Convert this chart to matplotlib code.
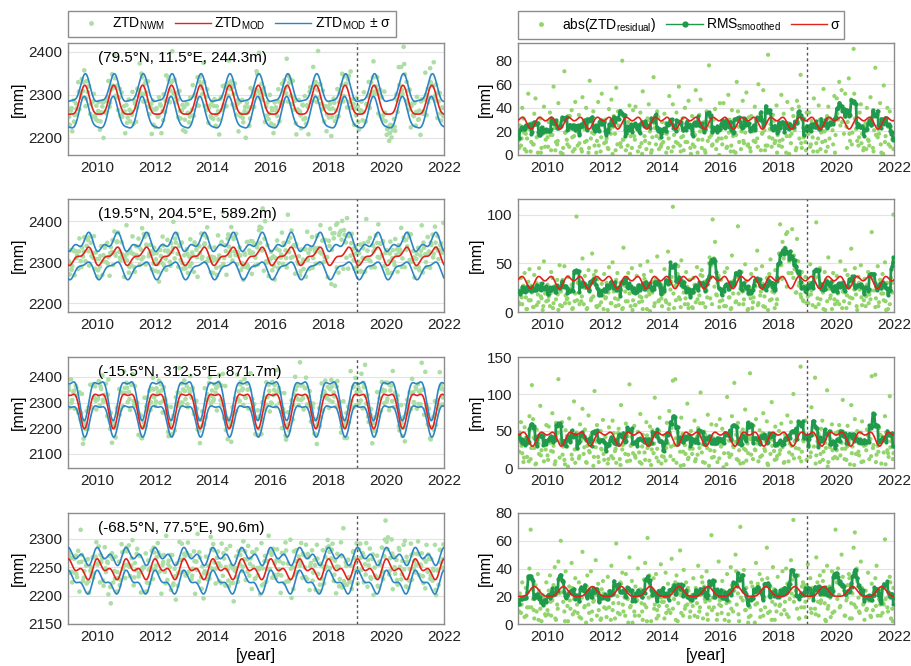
import numpy as np
import pandas as pd
import matplotlib
matplotlib.use("Agg")
import matplotlib.pyplot as plt
from matplotlib.lines import Line2D

plt.rcParams['font.family'] = ['Liberation Sans', 'DejaVu Sans']
plt.rcParams['mathtext.fontset'] = 'custom'
plt.rcParams['mathtext.rm'] = 'Liberation Sans'
plt.rcParams['mathtext.it'] = 'Liberation Sans:italic'

stations = ["(79.5°N, 11.5°E, 244.3m)", "(19.5°N, 204.5°E, 589.2m)",
            "(-15.5°N, 312.5°E, 871.7m)", "(-68.5°N, 77.5°E, 90.6m)"]

# harmonic ZTD model [mm]: mean, annual amp / phase, semi-annual amp / phase
mod_mean = [2280, 2314.5, 2286.5, 2246]
mod_a1 = [33.5, 17.3, 65, 12]
mod_p1 = [0.58, 0.633, 0.07, 0.10]
mod_a2 = [8.4, 8.65, -23.5, 9]
mod_p2 = [0.58, 0.258, 0.07, 0.48]

# sigma of the model [mm]
sig_mean = [28.5, 32, 42, 22.6]
sig_a1 = [-3.5, 4, 7.5, 3.5]
sig_p1 = [0.45, 0.93, 0.0, 0.57]
sig_a2 = [-3, 4, 5, 0.875]
sig_p2 = [0.45, 0.68, 0.25, 0.57]

left_ylim = [(2160, 2420), (2178, 2455), (2045, 2478), (2150, 2345)]
left_yticks = [[2200, 2300, 2400], [2200, 2300, 2400],
               [2100, 2200, 2300, 2400], [2150, 2200, 2250, 2300]]
right_ylim = [(0, 95), (0, 116), (0, 150), (0, 80)]
right_yticks = [[0, 20, 40, 60, 80], [0, 50, 100], [0, 50, 100, 150], [0, 20, 40, 60, 80]]
xticks = [2010, 2012, 2014, 2016, 2018, 2020, 2022]

# ZTD residuals (NWM - MOD) [mm], 24 samples per year, 2009-2021
res_s1 = [12, -25, 8, -40, 31, -5, 18, -14, 52, -22, 3, 27, -9, 35, -48, 15, -2, 22, -31, 6, -18, 41, -7, 19,
          -15, 28, -36, 4, 17, -58, 23, -11, 9, 44, -27, 2, 30, -6, 71, -19, 13, -33, 7, -24, 38, -3, 16, -45,
          21, -8, 34, -17, 5, 49, -29, 11, -40, 26, -2, 63, -14, 19, -37, 8, 24, -12, 45, -21, 3, -52, 29, 10,
          -30, 14, -6, 39, 22, -47, 1, 33, -18, 57, -9, 25, -35, 7, 80, -13, 27, -4, 18, -28, 42, -16, 6, -38,
          16, -41, 24, 3, -20, 36, -10, 54, -26, 12, -5, 31, -43, 20, 2, -15, 66, -23, 9, 37, -32, 14, -7, 28,
          -11, 35, -27, 18, 6, -50, 29, -3, 43, -17, 23, -36, 10, 58, -8, 15, -31, 4, 40, -22, 11, -46, 26, -1,
          33, -19, 7, -55, 25, 13, -34, 47, -6, 20, -28, 2, 37, -12, 76, -24, 17, -9, 30, -39, 5, 21, -14, 44,
          -22, 9, -44, 27, 15, -7, 51, -30, 3, 38, -16, 24, -2, 62, -37, 11, 28, -20, 46, -10, 19, -53, 8, 32,
          6, -33, 22, -12, 41, -25, 14, -60, 30, -4, 18, 55, -21, 8, -38, 85, -15, 26, -7, 34, -29, 12, -42, 17,
          -8, 24, -51, 13, 35, -19, 2, 45, -27, 16, -10, 39, -33, 21, 4, -46, 28, -14, 68, -6, 23, -31, 11, 36,
          18, -36, 7, 29, -15, 48, -24, 10, -3, 42, -30, 19, -11, 56, -20, 3, 33, -41, 14, -26, 27, -9, 50, -17,
          -48, -30, -62, -25, -55, -40, -18, -52, 24, -28, 65, -12, 47, -19, 90, 31, -22, 12, -8, 36, -43, 18, -4, 25,
          -27, 40, -13, 8, -49, 32, -6, 21, 74, -35, 15, -18, 44, 2, -29, 59, -11, 26, -40, 9, 37, -21, 13, -5]
res_s2 = [10, -22, 35, -8, 27, -40, 15, 3, -31, 44, -12, 20, -5, 38, -26, 7, 18, -45, 29, -14, 2, 52, -19, 11,
          -28, 16, -6, 41, -35, 9, 24, -13, 33, -2, -48, 21, 6, -30, 47, -17, 13, 36, -9, -24, 28, 4, -39, 19,
          98, 30, -20, 31, -11, 55, 8, -37, 25, -4, 43, -23, 12, 60, -16, 29, -42, 5, 34, -7, 22, -29, 17, 39,
          -14, 30, 2, -46, 26, -9, 51, -21, 14, -33, 40, 7, -18, 23, -3, 66, -27, 11, 35, -40, 19, -6, 45, -12,
          24, -7, 37, -25, 10, 48, -15, 3, -38, 29, 16, -52, 21, -1, 42, -20, 31, 9, -34, 57, -11, 26, -28, 6,
          -19, 44, 12, -30, 62, 8, -23, 36, 108, -4, 27, -47, 39, 15, -13, 53, -32, 20, -8, 41, -26, 4, 33, -16,
          5, -35, 28, -10, 46, -22, 17, 38, -43, 9, 31, -5, 22, -29, 50, 14, 48, 95, -55, 72, -18, 30, -37, 11,
          33, -12, 20, -41, 6, 45, -26, 15, -3, 58, -19, 27, 10, -36, 88, -8, 24, 41, -21, 13, -49, 32, -2, 18,
          -25, 39, 4, -15, 28, -44, 63, 9, -31, 21, 47, -6, 16, -27, 35, 2, -39, 54, -13, 25, -20, 43, 8, -33,
          60, 90, -48, 72, 55, -66, 80, 82, -40, 58, 62, 85, -35, 44, 20, 75, -52, 30, -18, 41, 12, -27, 36, -9,
          -16, 30, 49, -22, 7, 38, -35, 92, 14, -8, 45, -29, 23, 3, -41, 33, 11, 56, -24, 17, -3, 40, -13, 26,
          37, -19, 8, 52, -30, 21, -11, 43, 4, -38, 27, 15, 65, -14, 32, -45, 18, 2, 36, -23, 48, -7, 24, -34,
          -6, 28, 41, -18, 13, 82, -37, 22, 5, -26, 47, 10, -33, 19, 39, -12, 51, -2, 30, -21, 8, 35, 20, 100]
res_s3 = [35, -48, 62, -20, 8, -55, 41, 15, -33, 70, -12, 112, -66, 27, -5, 52, -38, 19, 84, -24, 46, -9, 31, -58,
          -17, 56, -40, 23, 74, -30, 5, 61, -47, 120, -14, 38, -62, 29, 11, -51, 43, -2, 67, -35, 18, -44, 90, 7,
          48, -26, 13, -59, 37, 80, -19, 52, -8, 30, -71, 21, 44, -37, 3, 104, -28, 58, -15, 39, -50, 25, 65, -11,
          -42, 28, 6, 55, -33, 16, -64, 47, 23, -7, 40, -53, 12, 85, -25, 34, -45, 60, 9, -18, 113, -30, 42, 20,
          57, -14, 36, -49, 21, 73, -6, 45, -38, 11, 62, -27, 30, -56, 4, 51, -20, 95, -43, 26, -9, 68, -35, 16,
          -23, 44, 10, -61, 33, 77, -16, 54, 118, -31, 120, 7, -48, 39, 22, -68, 46, -4, 31, -40, 87, 14, -26, 50,
          19, -37, 64, -12, 42, -54, 27, 102, -21, 8, 49, -45, 35, 72, -3, 24, -59, 41, 15, -32, 58, -8, 37, -66,
          -29, 53, 1, 38, -47, 96, 20, -15, 44, -70, 30, 115, -35, 12, 61, -24, 6, 48, -52, 26, 79, -10, 33, -42,
          128, -18, 39, -57, 25, 66, -33, 9, 51, -44, 17, 74, -26, 36, -63, 4, 42, -19, 89, -38, 23, 56, -12, 30,
          -50, 24, 60, -28, 7, 45, -41, 71, -9, 33, -62, 18, 100, -36, 27, -53, 48, 14, 137, -22, 38, -47, 64, 11,
          43, -31, 15, 82, -55, 29, 122, -17, 36, -46, 8, 53, -64, 22, 40, -27, 105, -8, 31, -39, 59, 13, -35, 47,
          -24, 49, -58, 17, 34, 92, -43, 26, -11, 57, -37, 5, 85, -29, 41, -66, 19, 50, -22, 33, -48, 63, 9, -34,
          31, -52, 44, 12, -39, 124, 27, -60, 126, 18, -30, 54, -45, 6, 38, -21, 70, -48, 24, -15, 97, 36, -40, 20]
res_s4 = [15, -22, 8, -30, 19, -5, 26, -12, 33, -40, 68, 25, -18, 4, 28, -9, 36, -24, 11, -2, 21, -15, 7, 30,
          -10, 24, -35, 6, 17, -28, 41, -3, 14, -45, 22, -60, 31, -16, 9, 38, -21, 2, 27, -11, 44, -7, 18, -33,
          20, -8, 30, -19, 4, 52, -26, 13, -1, 35, -14, 23, -38, 9, 16, -24, 46, -6, 29, -17, 3, 25, -31, 12,
          -18, 5, 34, -12, 22, -42, 10, 27, -4, 58, -20, 15, 7, -29, 37, -9, 19, -36, 24, 1, 48, -13, 31, -22,
          9, -27, 17, 40, -6, 25, -15, 3, 32, -44, 12, 62, -19, 28, -2, 21, -33, 14, 36, -10, 6, -24, 43, -16,
          26, -4, -37, 13, 29, -20, 8, 47, -11, 18, -30, 35, 2, -23, 53, -8, 20, -39, 11, 30, -14, 24, -5, 16,
          -21, 33, 6, -26, 15, 42, -9, 21, -34, 4, 27, -16, 38, -3, 12, -28, 64, 19, -12, 31, -22, 7, 45, -17,
          13, -31, 24, 3, -18, 36, -7, 16, -41, 28, 9, -24, 50, -14, 22, -2, 70, -33, 17, 39, -10, 26, -19, 5,
          -12, 30, -27, 18, 1, 44, -15, 23, -36, 10, 32, -6, 19, -29, 55, 8, -20, 27, -3, 41, -25, 14, -9, 34,
          22, -14, 7, 38, -23, 16, -40, 29, 5, -18, 46, -32, 75, -20, 24, -11, 35, -4, 20, -27, 30, 12, -16, 28,
          -43, 19, 33, -8, 26, -22, 11, 48, -30, 6, 35, -17, 21, -38, 15, 2, 42, -13, 27, -5, 38, -25, 9, 68,
          30, 40, -21, 13, 50, -34, 24, -6, 17, -28, 36, 4, -15, 22, 55, 66, -12, 31, -19, 8, 45, -26, 14, -3,
          -24, 11, 37, -17, 6, 29, -10, 20, -33, 42, -6, 18, -14, 25, -8, 14, 61, -28, 12, -20, 34, 4, -11, 26]

# extra residual samples [mm], 12 per year, mid-month
res_s1_b = [-6, 14, -19, 3, 25, -11, 9, -28, 17, -2, 21, -13, 7, -17, 26, -4, 12, -23, 1, 19, -9, 33, -15, 5,
            -20, 10, -3, 22, -12, 6, 29, -18, 2, -8, 15, -26, 11, -5, 18, -24, 4, 37, -10, 13, -21, 8, -1, 20,
            -13, 23, -7, 1, 16, -29, 10, -4, 27, -16, 5, -9, 19, -2, -14, 30, -7, 11, -22, 3, 16, -11, 24, -6,
            -9, 17, 2, -20, 13, -4, 28, -15, 8, 21, -12, 0, 14, -26, 6, 19, -8, 3, -17, 24, -5, 12, -30, 9,
            -3, 20, -11, 7, 35, -19, 4, -8, 22, -14, 10, -2, 12, -7, 25, -16, 1, 18, -23, 6, 41, -10, 15, -4,
            -18, 9, 3, -27, 14, -5, 20, -12, 7, 31, -21, 2, -35, -44, -28, -39, 6, 18, -9, 52, 27, -15, 10, -6,
            5, -12, 28, -3, 17, -22, 9, 1, -16, 24, -7, 13]
res_s2_b = [8, -15, 21, -3, 12, -27, 5, 30, -10, 16, -6, 24, -12, 19, -4, 27, -18, 7, 33, -9, 14, -21, 3, 11,
            12, -8, 16, -25, 3, 22, -14, 38, 6, -17, 10, -3, 15, -20, 9, 28, -6, 13, -30, 4, 21, -11, 26, -2,
            -7, 24, -16, 11, 34, -3, 18, -22, 6, 29, -12, 14, 20, -10, 3, 31, -19, 12, 47, -5, 25, -14, 8, 17,
            -4, 22, -13, 9, 37, -24, 15, 56, -8, 26, -17, 5, 18, -6, 27, -15, 4, 32, -11, 19, -26, 8, 23, -3,
            -14, 10, 26, -7, 17, -29, 5, 35, -12, 21, -4, 13, 48, 34, 65, -26, 52, 40, 58, -20, 27, 15, -11, 22,
            9, -18, 28, -5, 36, -13, 20, 2, -24, 14, 31, -8, -11, 25, 4, -20, 17, 9, -33, 23, -6, 30, -15, 12,
            16, -9, 22, 35, -14, 6, 27, -19, 11, -3, 25, 30]
res_s3_b = [22, -30, 14, 38, -9, 27, -41, 6, 33, -17, 45, -25, -11, 34, -22, 9, 48, -35, 18, -5, 29, -44, 12, 25,
            30, -16, 41, -28, 7, 23, -38, 15, 36, -8, -26, 19, -24, 12, 39, -13, 26, -47, 4, 31, -19, 43, 10, -32,
            17, -36, 8, 29, -21, 44, -10, 25, -33, 14, 50, -6, -15, 27, 46, -29, 11, -40, 35, 3, -22, 19, -12, 38,
            26, -9, 18, -43, 32, 7, -27, 40, -14, 23, -36, 13, -31, 20, 5, 37, -18, 28, -45, 10, 34, -7, 24, -20,
            39, -12, 24, -34, 15, 47, -23, 6, -39, 30, 11, -16, -19, 33, -8, 42, 21, -30, 13, 52, -26, 9, 36, -42,
            28, -21, 45, 6, -37, 19, -11, 34, 2, -28, 24, 15, -13, 38, -26, 12, 29, -41, 20, -4, 43, -17, 8, -30,
            24, -35, 16, 31, -8, 22, -44, 37, 5, -20, 28, -12]
res_s4_b = [9, -14, 18, -6, 12, 12, -10, 21, -3, 15, -19, 6, -7, 16, -20, 4, 11, -32, 23, -2, 13, -17, 26, -9,
            14, -5, 19, -12, 27, -8, 3, 17, -21, 10, -4, 22, -11, 20, -3, 15, -25, 8, 30, -14, 6, -18, 12, 1,
            6, -17, 24, -9, 14, -2, 35, -20, 11, 4, -13, 19, 16, -8, 10, -22, 28, 3, -15, 21, -6, 13, -26, 9,
            -13, 22, -5, 12, 30, -18, 7, 17, -10, 25, -3, 14, 8, -19, 15, 2, -11, 26, 38, -7, 19, -24, 10, -1,
            -6, 18, -14, 29, 5, -21, 12, 33, -9, 16, -3, 22, 13, 25, -10, 7, -30, 22, -16, 20, 4, -12, 28, -5,
            -20, 11, 24, -7, 16, -15, 31, 3, -11, 19, -8, 36, 18, -12, 27, 6, -19, 33, -4, 14, 40, -9, 21, -15,
            -10, 17, 5, -22, 13, 25, -6, 15, -18, 9, 30, 2]

residuals = [res_s1, res_s2, res_s3, res_s4]
residuals_b = [res_s1_b, res_s2_b, res_s3_b, res_s4_b]

c_nwm = '#acdea6'
c_res = '#93d46b'
c_mod = '#e2231d'
c_sig = '#2d86c4'
c_rms = '#1f9a4c'


def harmonic(x, m, a1, p1, a2, p2):
    return m + a1 * np.cos(2 * np.pi * (x - p1)) + a2 * np.cos(4 * np.pi * (x - p2))


t_a = 2009 + (np.arange(len(res_s1)) + 0.5) / 24
t_b = 2009 + (np.arange(len(res_s1_b)) + 0.5) / 12
tc = np.linspace(2009, 2022, 3000)

fig = plt.figure(figsize=(9.12, 6.66), dpi=100)
rows = [(43, 155), (199, 312), (357, 468), (513, 624)]

for i in range(4):
    top, bot = rows[i]
    axl = fig.add_axes([68 / 912, 1 - bot / 666, 376 / 912, (bot - top) / 666])
    axr = fig.add_axes([518 / 912, 1 - bot / 666, 376 / 912, (bot - top) / 666])

    t = np.concatenate([t_a, t_b])
    res = np.array(residuals[i] + residuals_b[i], dtype=float)
    order = np.argsort(t)
    t, res = t[order], res[order]

    mod_t = harmonic(t, mod_mean[i], mod_a1[i], mod_p1[i], mod_a2[i], mod_p2[i])
    mod_c = harmonic(tc, mod_mean[i], mod_a1[i], mod_p1[i], mod_a2[i], mod_p2[i])
    sig_c = harmonic(tc, sig_mean[i], sig_a1[i], sig_p1[i], sig_a2[i], sig_p2[i])
    rms = pd.Series(res ** 2).rolling(7, center=True, min_periods=1).mean() ** 0.5

    axl.scatter(t, mod_t + res, s=11, color=c_nwm, edgecolors='none', zorder=2)
    axl.plot(tc, mod_c, color=c_mod, lw=1.2, zorder=4)
    axl.plot(tc, mod_c + sig_c, color=c_sig, lw=1.2, zorder=3)
    axl.plot(tc, mod_c - sig_c, color=c_sig, lw=1.2, zorder=3)
    axl.text(0.08, 0.93, stations[i], transform=axl.transAxes, va='top', fontsize=11)
    axl.set_ylim(left_ylim[i])
    axl.set_yticks(left_yticks[i])

    axr.scatter(t, np.abs(res), s=9, color=c_res, edgecolors='none', zorder=2)
    axr.plot(t, rms, color=c_rms, lw=2, marker='.', ms=4, zorder=3)
    axr.plot(tc, sig_c, color=c_mod, lw=1.2, zorder=4)
    axr.set_ylim(right_ylim[i])
    axr.set_yticks(right_yticks[i])

    for ax in (axl, axr):
        ax.set_xlim(2009, 2022)
        ax.set_xticks(xticks)
        ax.axvline(2019, color='#555555', lw=1, ls=(0, (2, 2)), zorder=5)
        ax.grid(axis='y', color='#e3e3e3', lw=0.8)
        ax.set_axisbelow(True)
        ax.tick_params(length=0, labelsize=11, pad=4, colors='#222222')
        for sp in ax.spines.values():
            sp.set_color('#8c8c8c')
            sp.set_linewidth(1)
        ax.set_ylabel('[mm]', fontsize=11.5, labelpad=2)
        if i == 3:
            ax.set_xlabel('[year]', fontsize=11.5, labelpad=3)

h_left = [Line2D([], [], ls='none', marker='o', ms=3.5, color=c_nwm, mec='none'),
          Line2D([], [], color=c_mod, lw=1),
          Line2D([], [], color=c_sig, lw=1)]
l_left = [r'ZTD$_{\mathrm{NWM}}$', r'ZTD$_{\mathrm{MOD}}$', r'ZTD$_{\mathrm{MOD}}$ ± σ']
h_right = [Line2D([], [], ls='none', marker='o', ms=3.5, color=c_res, mec='none'),
           Line2D([], [], color=c_rms, lw=1, marker='o', ms=3.5),
           Line2D([], [], color=c_mod, lw=1)]
l_right = [r'abs(ZTD$_{\mathrm{residual}}$)', r'RMS$_{\mathrm{smoothed}}$', 'σ']

for h, l, x0 in [(h_left, l_left, 68), (h_right, l_right, 518)]:
    leg = fig.legend(h, l, loc='upper left', ncol=3,
                     bbox_to_anchor=(x0 / 912, 1 - 11 / 666),
                     borderaxespad=0, fontsize=10, handlelength=2.6, handletextpad=0.25,
                     columnspacing=0.7, borderpad=0.35, fancybox=False, framealpha=1)
    leg.get_frame().set_edgecolor('#8c8c8c')
    leg.get_frame().set_linewidth(1)

fig.savefig('out.png', dpi=100)
